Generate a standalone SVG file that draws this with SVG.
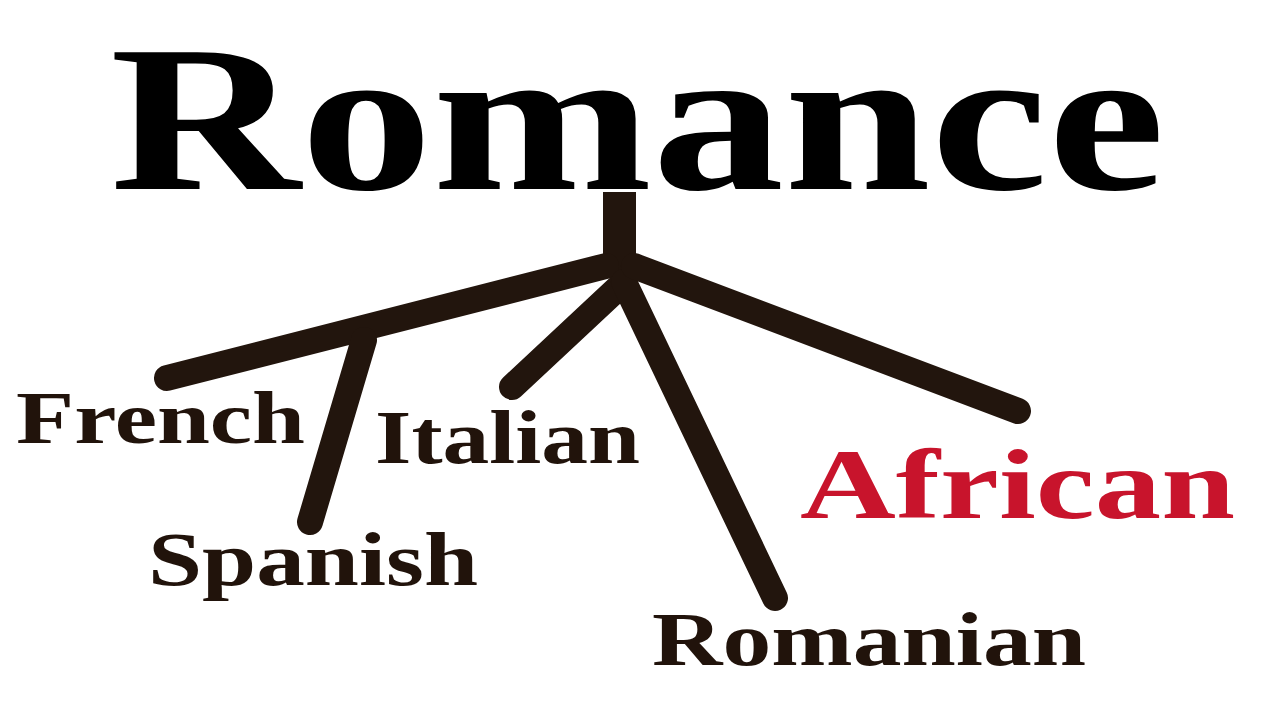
<svg xmlns="http://www.w3.org/2000/svg" width="1280" height="720" viewBox="0 0 1280 720">
<style>
.t{font-family:"Liberation Serif","Times New Roman",serif;font-weight:bold;fill:#21130b}
.br{stroke:#22150d;stroke-width:26;stroke-linecap:round;fill:none}
</style>
<rect width="1280" height="720" fill="#ffffff"/>
<g id="connectors">
<rect x="603" y="192" width="33" height="82" fill="#22150d"/>
<line class="br" x1="167" y1="378" x2="606" y2="266"/>
<line class="br" x1="364" y1="340" x2="310" y2="522"/>
<line class="br" x1="618" y1="288" x2="512" y2="387"/>
<line class="br" x1="624" y1="282" x2="775" y2="598"/>
<line class="br" x1="634" y1="266" x2="1018" y2="411"/>
</g>
<g id="romance"><text class="t" x="110" y="189" font-size="209" textLength="1055" lengthAdjust="spacingAndGlyphs" style="fill:#000">Romance</text></g>
<g id="french"><text class="t" x="16" y="443" font-size="74" textLength="289" lengthAdjust="spacingAndGlyphs">French</text></g>
<g id="italian"><text class="t" x="375" y="463" font-size="76" textLength="265" lengthAdjust="spacingAndGlyphs">Italian</text></g>
<g id="spanish"><text class="t" x="148" y="585" font-size="76" textLength="330" lengthAdjust="spacingAndGlyphs">Spanish</text></g>
<g id="romanian"><text class="t" x="652" y="665" font-size="76" textLength="434" lengthAdjust="spacingAndGlyphs">Romanian</text></g>
<g id="african"><text class="t" x="800" y="518" font-size="100" textLength="435" lengthAdjust="spacingAndGlyphs" style="fill:#c8142c">African</text></g>
</svg>
